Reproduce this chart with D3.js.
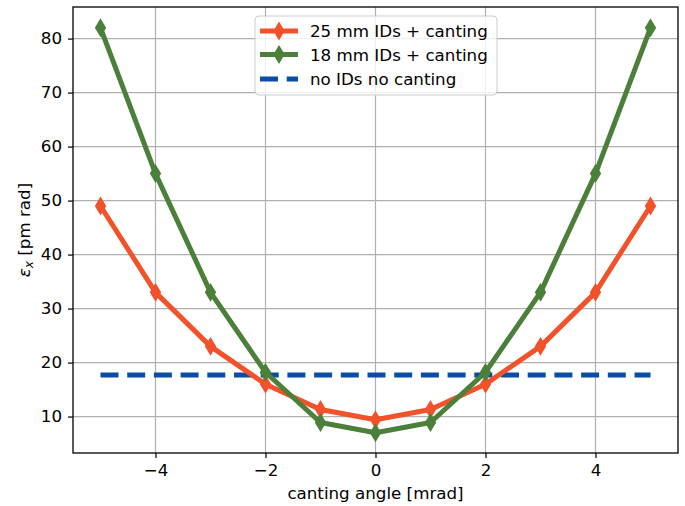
<!DOCTYPE html>
<html>
<head>
<meta charset="utf-8">
<script src="https://cdn.jsdelivr.net/npm/d3@7"></script>
<style>
  body { margin: 0; background: #fff; }
  text { font-family: "DejaVu Sans", sans-serif; }
</style>
</head>
<body>
<div id="chart"></div>
<script>
// canting angle [mrad] and horizontal emittance [pm rad]
var angles = [-5, -4, -3, -2, -1, 0, 1, 2, 3, 4, 5];
var emit25 = [49, 33, 23, 16, 11.3, 9.4, 11.3, 16, 23, 33, 49];
var emit18 = [82, 55, 33, 18.2, 8.9, 7, 8.9, 18.2, 33, 55, 82];
var emitBare = 17.7;
var xTicks = [-4, -2, 0, 2, 4];
var yTicks = [10, 20, 30, 40, 50, 60, 70, 80];
var seriesNames = ["25 mm IDs + canting", "18 mm IDs + canting", "no IDs no canting"];
var seriesColors = ["#f2522a", "#4b803a", "#0a4da6"];

var W = 685, H = 506;
var margin = {top: 7, left: 73, right: 7, bottom: 53};
var width = W - margin.left - margin.right,
    height = H - margin.top - margin.bottom;
var fontSize = "16.7px";

var svg = d3.select("#chart").append("svg")
    .attr("width", W)
    .attr("height", H);

var x = d3.scaleLinear().domain([-5.5, 5.5]).range([0, width]);
var y = d3.scaleLinear().domain([3.25, 85.85]).range([height, 0]);

var g = svg.append("g")
    .attr("transform", "translate(" + margin.left + "," + margin.top + ")");

// grid
g.append("g").selectAll("line").data(xTicks).enter().append("line")
    .attr("x1", function(d) { return x(d); })
    .attr("x2", function(d) { return x(d); })
    .attr("y1", 0).attr("y2", height)
    .style("stroke", "#b0b0b0").style("stroke-width", 1.2);
g.append("g").selectAll("line").data(yTicks).enter().append("line")
    .attr("y1", function(d) { return y(d); })
    .attr("y2", function(d) { return y(d); })
    .attr("x1", 0).attr("x2", width)
    .style("stroke", "#b0b0b0").style("stroke-width", 1.2);

// axes
var xAxis = g.append("g")
    .attr("transform", "translate(0," + height + ")")
    .call(d3.axisBottom(x).tickValues(xTicks).tickSize(5).tickPadding(6)
        .tickFormat(function(d) { return d < 0 ? "\u2212" + Math.abs(d) : d; }));
var yAxis = g.append("g")
    .call(d3.axisLeft(y).tickValues(yTicks).tickSize(5).tickPadding(6));
[xAxis, yAxis].forEach(function(a) {
    a.select(".domain").remove();
    a.selectAll("text").style("font-size", fontSize).style("fill", "#000")
        .style("font-family", "'DejaVu Sans', sans-serif");
    a.selectAll("line").style("stroke", "#000").style("stroke-width", 1.2);
});

var line = d3.line()
    .x(function(d) { return x(d[0]); })
    .y(function(d) { return y(d[1]); });

// reference line without IDs
g.append("path")
    .datum([[angles[0], emitBare], [angles[angles.length - 1], emitBare]])
    .attr("d", line)
    .style("fill", "none")
    .style("stroke", seriesColors[2])
    .style("stroke-width", 5)
    .style("stroke-dasharray", "18,8.7");

var diamond = "M0,-8L4.8,0L0,8L-4.8,0Z";

[emit25, emit18].forEach(function(vals, i) {
    var pts = angles.map(function(a, j) { return [a, vals[j]]; });
    g.append("path")
        .datum(pts)
        .attr("d", line)
        .style("fill", "none")
        .style("stroke", seriesColors[i])
        .style("stroke-width", 5)
        .style("stroke-linejoin", "round");
    g.append("g").selectAll("path").data(pts).enter().append("path")
        .attr("d", diamond)
        .attr("transform", function(d) { return "translate(" + x(d[0]) + "," + y(d[1]) + ")"; })
        .style("fill", seriesColors[i])
        .style("stroke", seriesColors[i])
        .style("stroke-width", 1.5);
});

// frame
g.append("rect")
    .attr("width", width).attr("height", height)
    .style("fill", "none").style("stroke", "#000").style("stroke-width", 1.3);

// axis labels
svg.append("text")
    .attr("x", margin.left + width / 2)
    .attr("y", 499)
    .attr("text-anchor", "middle")
    .style("font-size", fontSize)
    .text("canting angle [mrad]");

var yl = svg.append("text")
    .attr("transform", "translate(30," + (margin.top + height / 2) + ") rotate(-90)")
    .attr("text-anchor", "middle")
    .style("font-size", fontSize);
yl.append("tspan").style("font-style", "italic").text("\u03b5");
yl.append("tspan").style("font-style", "italic").style("font-size", "12px")
    .attr("dy", 3).text("x");
yl.append("tspan").attr("dy", -3).text(" [pm rad]");

// legend
var leg = svg.append("g").attr("transform", "translate(255,16)");
leg.append("rect")
    .attr("width", 242).attr("height", 79)
    .attr("rx", 4)
    .style("fill", "#fff").style("fill-opacity", 0.8)
    .style("stroke", "#cccccc").style("stroke-width", 1);
var rowY = [15, 38.5, 63];
seriesNames.forEach(function(name, i) {
    var row = leg.append("g").attr("transform", "translate(0," + rowY[i] + ")");
    var ln = row.append("line")
        .attr("x1", 5).attr("x2", 43)
        .style("stroke", seriesColors[i])
        .style("stroke-width", 5);
    if (i < 2) {
        row.append("path")
            .attr("d", diamond)
            .attr("transform", "translate(24,0)")
            .style("fill", seriesColors[i])
            .style("stroke", seriesColors[i])
            .style("stroke-width", 1.5);
    } else {
        ln.style("stroke-dasharray", "18,8.7");
    }
    row.append("text")
        .attr("x", 55).attr("y", 6)
        .style("font-size", fontSize)
        .text(name);
});
</script>
</body>
</html>
